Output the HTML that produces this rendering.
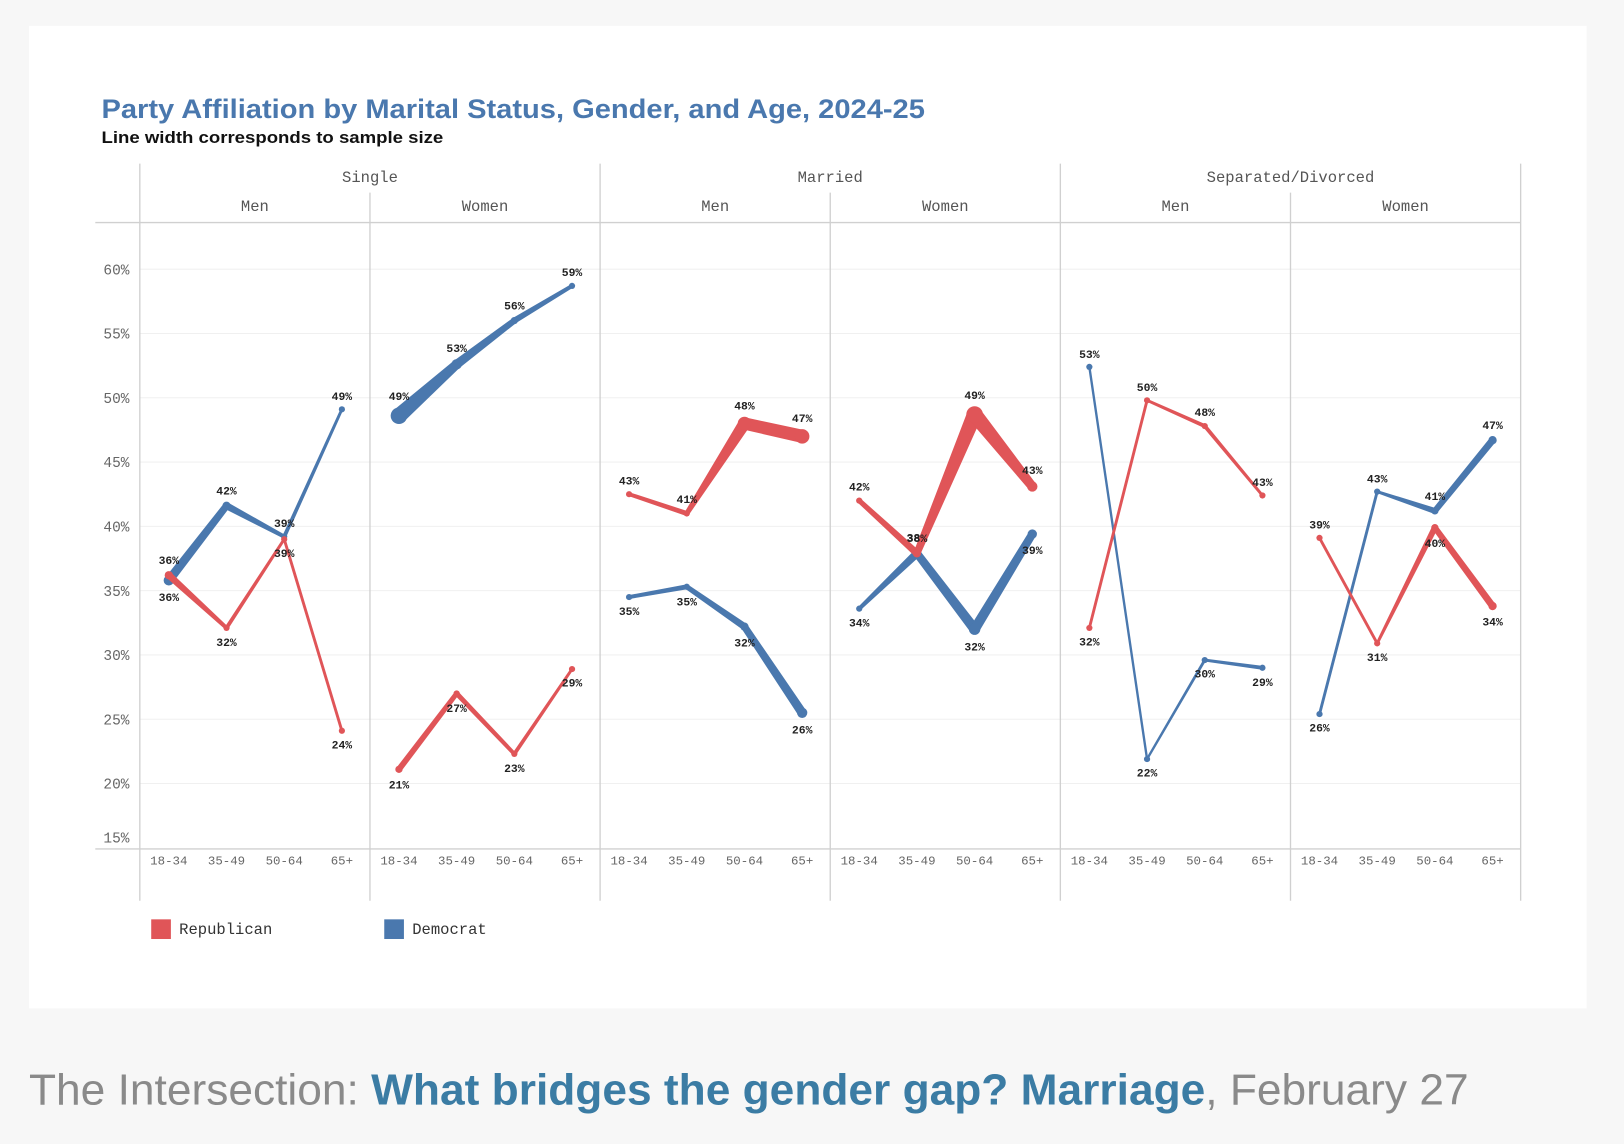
<!DOCTYPE html>
<html><head><meta charset="utf-8"><style>
html,body{margin:0;padding:0;background:#f7f7f7;}
svg{display:block;}
.mono{font-family:"Liberation Mono","DejaVu Sans Mono",monospace;}
</style></head><body>
<svg id="chart" width="1624" height="1144" viewBox="0 0 1568 1105" preserveAspectRatio="none" xmlns="http://www.w3.org/2000/svg">
<rect x="0" y="0" width="1568" height="1105" fill="#f7f7f7"/>
<rect x="28" y="25" width="1504" height="949" fill="#ffffff"/>
<text x="98" y="114" font-family="Liberation Sans, sans-serif" font-weight="bold" font-size="26" fill="#4a78ae" textLength="795" lengthAdjust="spacingAndGlyphs">Party Affiliation by Marital Status, Gender, and Age, 2024-25</text>
<text x="98" y="138" font-family="Liberation Sans, sans-serif" font-weight="bold" font-size="16" fill="#111" textLength="330" lengthAdjust="spacingAndGlyphs">Line width corresponds to sample size</text>
<g id="frame"></g>
<g id="marks"></g>
<g>
<rect x="146" y="888" width="19" height="19" fill="#e05558"/>
<text x="173" y="902" class="mono" font-size="15" fill="#333">Republican</text>
<rect x="371" y="888" width="19" height="19" fill="#4a78ae"/>
<text x="398" y="902" class="mono" font-size="15" fill="#333">Democrat</text>
</g>
<text x="28" y="1067" font-family="Liberation Sans, sans-serif" font-size="42" fill="#8a8a8a" textLength="1390" lengthAdjust="spacingAndGlyphs">The Intersection: <tspan font-weight="bold" fill="#3b7ca4">What bridges the gender gap? Marriage</tspan>, February 27</text>
</svg>
<script>
const groups = ["Single","Married","Separated/Divorced"];
const genders = ["Men","Women"];
const ages = ["18-34","35-49","50-64","65+"];
const yTicks = [15,20,25,30,35,40,45,50,55,60];
const repValues = [[36.2,32.1,39,24.1],[21.1,27,22.3,28.9],[42.5,41,48,47],[42,37.9,48.7,43.1],[32.1,49.8,47.8,42.4],[39.1,30.9,39.9,33.8]];
const demValues = [[35.8,41.6,39.2,49.1],[48.6,52.6,56,58.7],[34.5,35.3,32.2,25.5],[33.6,37.9,32,39.4],[52.4,21.9,29.6,29],[25.4,42.7,41.2,46.7]];
const repLabels = [[36,32,39,24],[21,27,23,29],[43,41,48,47],[42,38,49,43],[32,50,48,43],[39,31,40,34]];
const demLabels = [[36,42,39,49],[49,53,56,59],[35,35,32,26],[34,38,32,39],[53,22,30,29],[26,43,41,47]];
const repSizes = [[6,3,2,2],[5,4,3,2],[3,4,11,12],[4,6,14,8],[2,2,3,2],[2,2,5,6]];
const demSizes = [[8,6,3,2],[14,8,5,3],[3,4,6,8],[3,7,9,7],[1.5,1.5,2,3],[2,2,5,6]];

const NS="http://www.w3.org/2000/svg";
const panelL=135, panelW=222.2;
function y(v){return 260+(60-v)*12.42;}
function x(p,i){return panelL+p*panelW+28+i*55.7;}
function mk(tag,attrs,parent){const e=document.createElementNS(NS,tag);for(const k in attrs)e.setAttribute(k,attrs[k]);parent.appendChild(e);return e;}
const frame=document.getElementById('frame'), marks=document.getElementById('marks');

yTicks.forEach(t=>{
  if(t>15){const g=mk('line',{x1:panelL,x2:1468,y1:y(t),y2:y(t),stroke:'#f0f0f0','stroke-width':1},frame);
  
  }
  const lb=mk('text',{x:125,y:(t===15?814:y(t)+5),'text-anchor':'end','font-size':14,fill:'#666',class:'mono'},frame);
  lb.textContent=t+'%';
  
  
});
const L=(a,n)=>{const e=mk('line',Object.assign({stroke:'#d0d0d0','stroke-width':1.3},a),frame);};
L({x1:92,x2:1468,y1:215,y2:215},'header-bottom-rule');
L({x1:92,x2:1468,y1:820,y2:820},'x-axis-line');
for(let p=0;p<=6;p++){
  const px=panelL+p*panelW;
  const top=(p%2===0)?158:186;
  L({x1:px,x2:px,y1:top,y2:870},'panel-divider-'+p);
}
groups.forEach((g,gi)=>{
  const t=mk('text',{x:panelL+(gi*2+1)*panelW,y:176,'text-anchor':'middle','font-size':15,fill:'#555',class:'mono'},frame);
  t.textContent=g;
  
  
});
for(let p=0;p<6;p++){
  const t=mk('text',{x:panelL+(p+0.5)*panelW,y:204,'text-anchor':'middle','font-size':15,fill:'#555',class:'mono'},frame);
  t.textContent=genders[p%2];
  
  
  ages.forEach((a,i)=>{
    const at=mk('text',{x:x(p,i),y:835,'text-anchor':'middle','font-size':12,fill:'#666',class:'mono'},frame);
    at.textContent=a;
    
    
  });
}
function seg(x1,y1,r1,x2,y2,r2,col,parent){
  const dx=x2-x1,dy=y2-y1,len=Math.hypot(dx,dy),nx=-dy/len,ny=dx/len;
  const pts=[[x1+nx*r1,y1+ny*r1],[x2+nx*r2,y2+ny*r2],[x2-nx*r2,y2-ny*r2],[x1-nx*r1,y1-ny*r1]].map(q=>q.join(',')).join(' ');
  return mk('polygon',{points:pts,fill:col,stroke:col,'stroke-width':0.8,'stroke-linejoin':'round'},parent);
}
function series(vals,labels,sizes,other,col,name,p){
  const g=mk('g',{},marks);
  
  
  for(let i=0;i<3;i++){
    const s=seg(x(p,i),y(vals[i]),sizes[i]/2,x(p,i+1),y(vals[i+1]),sizes[i+1]/2,col,g);
    
    
  }
  vals.forEach((v,i)=>{
    const c=mk('circle',{cx:x(p,i),cy:y(v),r:Math.max(3,sizes[i]/2+1),fill:col},g);
    
    
    const above=v>=other[i];
    const t=mk('text',{x:x(p,i),y:above?y(v)-sizes[i]/2-8:y(v)+sizes[i]/2+16,'text-anchor':'middle','font-size':11,'font-weight':'bold',fill:'#222',class:'mono'},g);
    t.textContent=labels[i]+'%';
    
    
  });
}
for(let p=0;p<6;p++){
  series(demValues[p],demLabels[p],demSizes[p],repValues[p],'#4a78ae','democrat',p);
  series(repValues[p],repLabels[p],repSizes[p],demValues[p],'#e05558','republican',p);
}
</script>
</body></html>
